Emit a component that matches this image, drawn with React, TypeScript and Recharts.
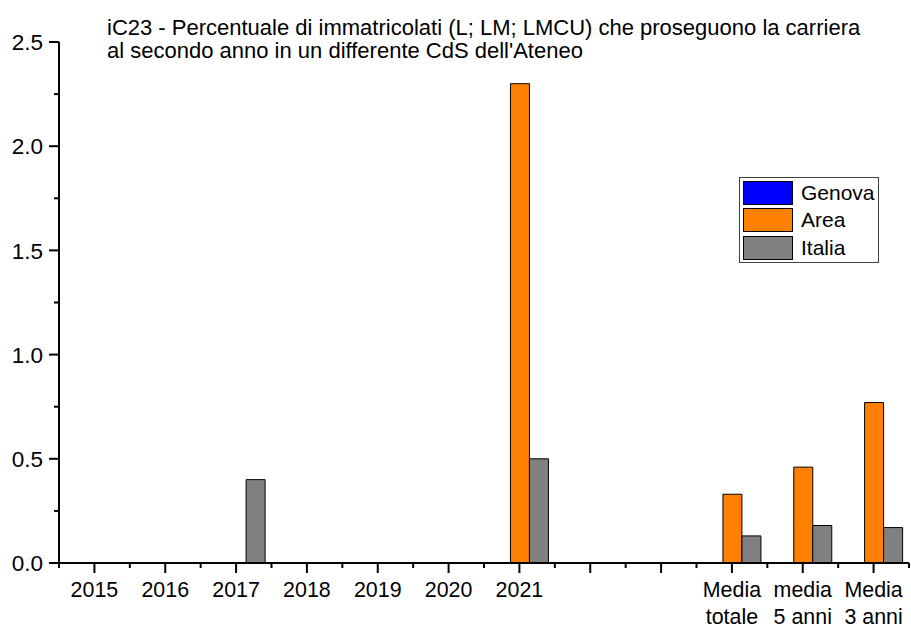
import React from "react";
import { BarChart, Bar, XAxis, YAxis, Legend } from "recharts";

// Categories on the x axis ("\n" splits the two-line labels)
const categories = [
  "2015",
  "2016",
  "2017",
  "2018",
  "2019",
  "2020",
  "2021",
  "",
  " ",
  "Media\ntotale",
  "media\n5 anni",
  "Media\n3 anni",
];

const genova = [0, 0, 0, 0, 0, 0, 0, null, null, 0, 0, 0];
const area = [0, 0, 0, 0, 0, 0, 2.3, null, null, 0.33, 0.46, 0.77];
const italia = [0, 0, 0.4, 0, 0, 0, 0.5, null, null, 0.13, 0.18, 0.17];

const yTicks = [0, 0.25, 0.5, 0.75, 1, 1.25, 1.5, 1.75, 2, 2.25, 2.5];

const series = [
  { key: "genova", name: "Genova", color: "#0000ff" },
  { key: "area", name: "Area", color: "#ff8000" },
  { key: "italia", name: "Italia", color: "#808080" },
];

const titleLines = [
  "iC23 - Percentuale di immatricolati (L; LM; LMCU) che proseguono la carriera",
  "al secondo anno in un differente CdS dell'Ateneo",
];

const data = categories.map((label, i) => ({
  label,
  genova: genova[i],
  area: area[i],
  italia: italia[i],
}));

const W = 911;
const H = 628;
const MARGIN = { top: 42, right: 2, left: 0, bottom: 0 };
const Y_WIDTH = 59;
const X_HEIGHT = 65;
const FONT = "'Liberation Sans', Arial, Helvetica, sans-serif";

const Y_TICK_SIZE = 10;
const Y_TICK_MARGIN = 6;
const X_TICK_SIZE = 10;
const X_TICK_MARGIN = 2;

function YTick(props: any) {
  const { x, y, payload } = props;
  const axisX = x + Y_TICK_SIZE + Y_TICK_MARGIN;
  const v = payload.value;
  const major = Math.abs(v * 2 - Math.round(v * 2)) < 1e-6;
  return (
    <g>
      <line
        x1={axisX}
        x2={axisX - (major ? 10 : 5)}
        y1={y}
        y2={y}
        stroke="#000"
        strokeWidth={2}
      />
      {major && (
        <text
          x={x}
          y={y}
          dy="0.36em"
          textAnchor="end"
          fontSize={22.5}
          fontFamily={FONT}
          fill="#000"
        >
          {v.toFixed(1)}
        </text>
      )}
    </g>
  );
}

function XTick(props: any) {
  const { x, y, payload, index, visibleTicksCount } = props;
  const axisY = y - X_TICK_SIZE - X_TICK_MARGIN;
  const plotWidth = W - MARGIN.left - MARGIN.right - Y_WIDTH;
  const band = plotWidth / (visibleTicksCount || categories.length);
  const lines = String(payload.value).trim().split("\n");
  return (
    <g>
      <line x1={x - band / 2} x2={x - band / 2} y1={axisY} y2={axisY + 5} stroke="#000" strokeWidth={2} />
      {index === categories.length - 1 && (
        <line x1={x + band / 2} x2={x + band / 2} y1={axisY} y2={axisY + 5} stroke="#000" strokeWidth={2} />
      )}
      {lines.map((line, i) =>
        line ? (
          <text
            key={i}
            x={x}
            y={axisY + 34 + i * 27}
            textAnchor="middle"
            fontSize={21.4}
            fontFamily={FONT}
            fill="#000"
          >
            {line}
          </text>
        ) : null
      )}
    </g>
  );
}

function LegendBox() {
  return (
    <div
      style={{
        position: "relative",
        width: 140,
        height: 86,
        boxSizing: "border-box",
        border: "1px solid #404040",
        background: "#fff",
        fontFamily: FONT,
        fontSize: 21,
      }}
    >
      {series.map((s, i) => (
        <div
          key={s.key}
          style={{ position: "absolute", left: 3, top: 3 + i * 27.3, height: 24, display: "flex", alignItems: "center" }}
        >
          <div
            style={{
              width: 50,
              height: 24,
              boxSizing: "border-box",
              border: "1px solid #000",
              background: s.color,
            }}
          />
          <span style={{ marginLeft: 8, lineHeight: "24px", color: "#000" }}>{s.name}</span>
        </div>
      ))}
    </div>
  );
}

export default function App() {
  return (
    <div style={{ position: "absolute", left: 0, top: 0, width: W, height: H, background: "#fff" }}>
      <div
        style={{
          position: "absolute",
          left: 107,
          top: 16,
          fontFamily: FONT,
          fontSize: 22,
          lineHeight: "23px",
          color: "#000",
          whiteSpace: "nowrap",
        }}
      >
        {titleLines.map((t) => (
          <div key={t}>{t}</div>
        ))}
      </div>
      <BarChart
        width={W}
        height={H}
        data={data}
        margin={MARGIN}
        barCategoryGap="10.5%"
        barGap={0}
      >
        <XAxis
          dataKey="label"
          height={X_HEIGHT}
          interval={0}
          tickSize={X_TICK_SIZE}
          tickMargin={X_TICK_MARGIN}
          tick={<XTick />}
          axisLine={{ stroke: "#000", strokeWidth: 2 }}
          tickLine={{ stroke: "#000", strokeWidth: 2 }}
        />
        <YAxis
          width={Y_WIDTH}
          domain={[0, 2.5]}
          ticks={yTicks}
          interval={0}
          tickSize={Y_TICK_SIZE}
          tickMargin={Y_TICK_MARGIN}
          tick={<YTick />}
          tickLine={false}
          axisLine={{ stroke: "#000", strokeWidth: 2 }}
        />
        <Legend
          layout="vertical"
          align="center"
          verticalAlign="middle"
          wrapperStyle={{ position: "absolute", left: 739, top: 177, width: 140, height: 86 }}
          content={() => <LegendBox />}
        />
        {series.map((s) => (
          <Bar
            key={s.key}
            dataKey={s.key}
            name={s.name}
            fill={s.color}
            stroke="#000"
            strokeWidth={1}
            isAnimationActive={false}
          />
        ))}
      </BarChart>
    </div>
  );
}
